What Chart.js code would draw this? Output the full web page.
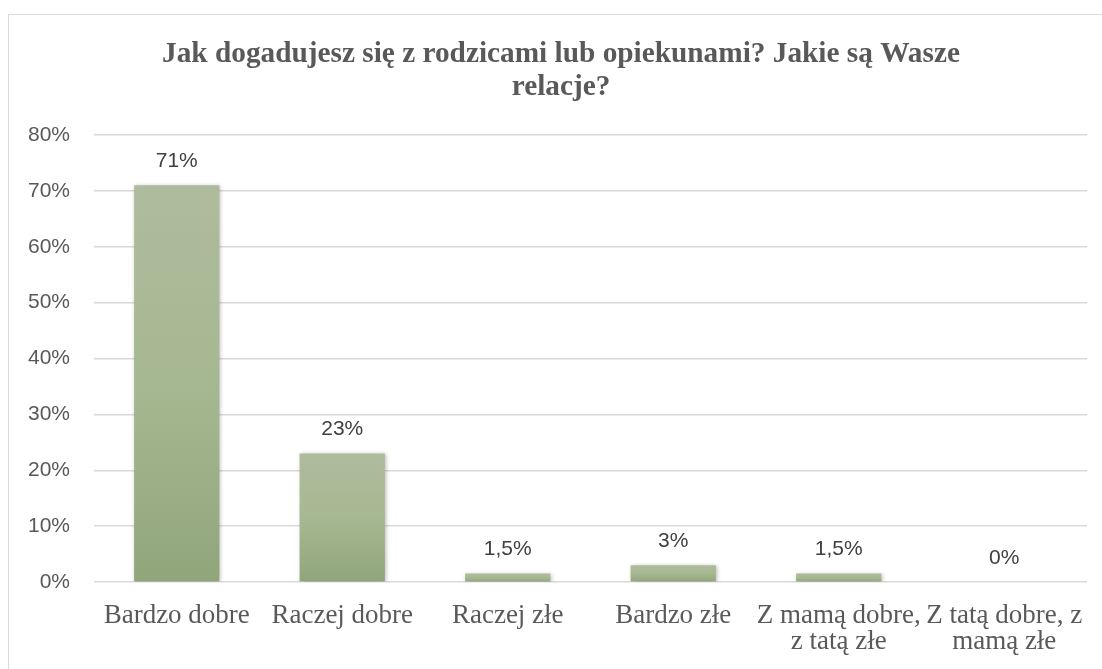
<!DOCTYPE html>
<html>
<head>
<meta charset="utf-8">
<script src="https://cdn.jsdelivr.net/npm/chart.js@4"></script>
<style>
  html, body { margin: 0; padding: 0; background: #fff; }
  #wrap { width: 1102px; height: 669px; position: relative; }
</style>
</head>
<body>
<div id="wrap"><canvas id="myChart" width="1102" height="669"></canvas></div>
<script>
var categories = [
  ["Bardzo dobre"],
  ["Raczej dobre"],
  ["Raczej złe"],
  ["Bardzo złe"],
  ["Z mamą dobre,", "z tatą złe"],
  ["Z tatą dobre, z", "mamą złe"]
];
var percents = [71, 23, 1.5, 3, 1.5, 0];
var yTicks = [0, 10, 20, 30, 40, 50, 60, 70, 80];

var titleLines = ["Jak dogadujesz się z rodzicami lub opiekunami? Jakie są Wasze", "relacje?"];

function fmt(v) {
  return String(v).replace('.', ',') + '%';
}

// gradient per bar, light on top, darker at the base
function barFill(context) {
  var chart = context.chart;
  var y = chart.scales.y;
  if (!chart.chartArea || !y) return '#a7b892';
  var v = context.raw;
  var top = y.getPixelForValue(v);
  var bottom = y.getPixelForValue(0);
  if (bottom - top < 1) return '#a7b892';
  var g = chart.ctx.createLinearGradient(0, top, 0, bottom);
  g.addColorStop(0, '#afbb9d');
  g.addColorStop(0.5, '#a6b891');
  g.addColorStop(1, '#91a57b');
  return g;
}

var framePlugin = {
  id: 'frame',
  beforeDraw: function(chart) {
    var ctx = chart.ctx;
    ctx.save();
    ctx.fillStyle = '#ffffff';
    ctx.fillRect(0, 0, chart.width, chart.height);
    ctx.strokeStyle = '#d9d9d9';
    ctx.lineWidth = 1;
    ctx.strokeRect(8.5, 14.5, 1120, 700);
    ctx.restore();
  }
};

// title drawn by hand, the chart box is wider than the picture so it sits right of centre
var titlePlugin = {
  id: 'wrappedTitle',
  afterDraw: function(chart) {
    var ctx = chart.ctx;
    ctx.save();
    ctx.font = 'bold 29.3px "Liberation Serif", "Times New Roman", serif';
    ctx.fillStyle = '#595959';
    ctx.textAlign = 'center';
    ctx.textBaseline = 'alphabetic';
    ctx.fillText(titleLines[0], 561, 62);
    ctx.fillText(titleLines[1], 561, 95);
    ctx.restore();
  }
};

var shadowPlugin = {
  id: 'barShadow',
  beforeDatasetsDraw: function(chart) {
    var ctx = chart.ctx;
    ctx.save();
    ctx.shadowColor = 'rgba(0,0,0,0.28)';
    ctx.shadowBlur = 4;
    ctx.shadowOffsetX = 1;
    ctx.shadowOffsetY = 1;
  },
  afterDatasetsDraw: function(chart) {
    chart.ctx.restore();
  }
};

var labelPlugin = {
  id: 'valueLabels',
  afterDatasetsDraw: function(chart) {
    var ctx = chart.ctx;
    var meta = chart.getDatasetMeta(0);
    ctx.save();
    ctx.font = '21px "Liberation Sans", Arial, sans-serif';
    ctx.fillStyle = '#404040';
    ctx.textAlign = 'center';
    ctx.textBaseline = 'middle';
    meta.data.forEach(function(bar, i) {
      ctx.fillText(fmt(percents[i]), bar.x, bar.y - 24);
    });
    ctx.restore();
  }
};

var ctx = document.getElementById('myChart').getContext('2d');

var chart = new Chart(ctx, {
  type: 'bar',
  data: {
    labels: categories,
    datasets: [{
      label: 'Odpowiedzi',
      data: percents,
      backgroundColor: barFill,
      borderWidth: 0,
      barPercentage: 0.515,
      categoryPercentage: 1
    }]
  },
  options: {
    responsive: false,
    animation: false,
    layout: { padding: { left: 20, right: 15, top: 135, bottom: 0 } },
    plugins: {
      legend: { display: false },
      tooltip: { enabled: false },
      title: { display: false }
    },
    scales: {
      x: {
        afterFit: function(scale) {
          scale.height = 87;
          scale.paddingLeft = 0;
          scale.paddingRight = 0;
        },
        grid: { display: false },
        border: { display: false },
        ticks: {
          color: '#595959',
          font: { family: '"Liberation Serif", "Times New Roman", serif', size: 27, lineHeight: 0.97 },
          padding: 13,
          maxRotation: 0,
          autoSkip: false
        }
      },
      y: {
        min: 0,
        max: 80,
        afterFit: function(scale) { scale.width = 74; },
        afterBuildTicks: function(scale) {
          scale.ticks = yTicks.map(function(v) { return { value: v }; });
        },
        grid: { color: '#d9d9d9', lineWidth: 1.5, drawTicks: false },
        border: { display: false },
        ticks: {
          color: '#595959',
          font: { family: '"Liberation Sans", Arial, sans-serif', size: 21 },
          padding: 24,
          callback: function(v) { return v + '%'; }
        }
      }
    }
  },
  plugins: [framePlugin, shadowPlugin, labelPlugin, titlePlugin]
});
</script>
</body>
</html>
